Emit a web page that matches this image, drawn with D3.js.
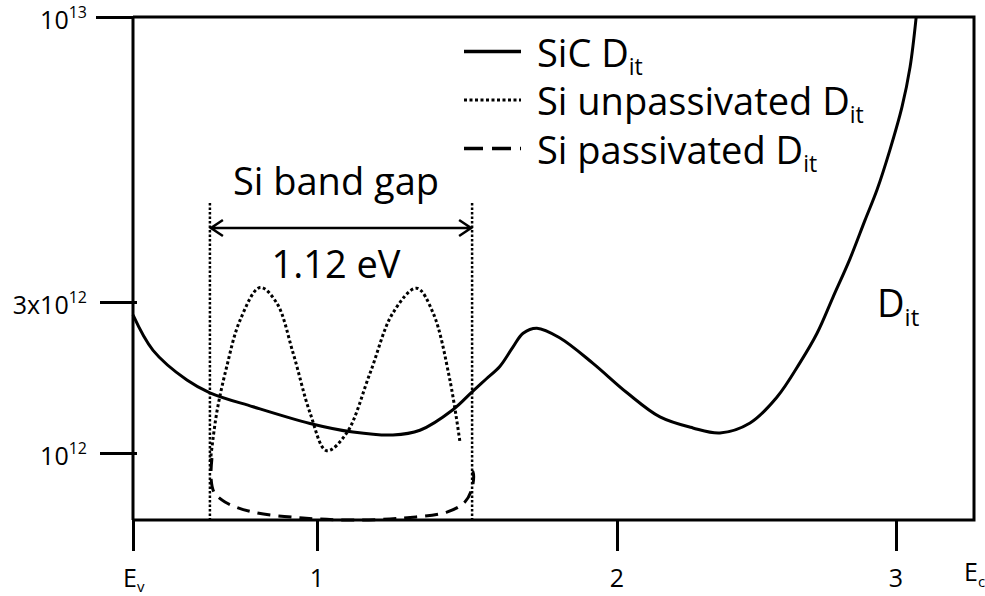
<!DOCTYPE html>
<html>
<head>
<meta charset="utf-8">
<script src="https://d3js.org/d3.v7.min.js"></script>
<style>
  body, html { margin:0; background:#fff; }
  text { font-family:"Open Sans", sans-serif; fill:#000; }
</style>
</head>
<body>
<svg id="chart"></svg>
<script>

  const width = 985, height = 596;

  // energy above Ev (eV) and Dit (cm^-2 eV^-1)
  const sicE   = [0, 0.109, 0.293, 0.418, 0.652, 0.962, 1.12, 1.253, 1.343, 1.453, 1.517, 1.563, 1.61, 1.653, 1.687, 1.733, 1.81, 1.92, 2.036, 2.154, 2.272, 2.369, 2.477, 2.573, 2.656, 2.717, 2.774, 2.835, 2.889, 2.932, 2.978, 3.02, 3.047, 3.067];
  const sicDit = [2.73e12, 2.11e12, 1.70e12, 1.55e12, 1.40e12, 1.24e12, 1.165e12, 1.14e12, 1.18e12, 1.37e12, 1.56e12, 1.71e12, 1.88e12, 2.16e12, 2.39e12, 2.48e12, 2.31e12, 1.92e12, 1.55e12, 1.30e12, 1.20e12, 1.157e12, 1.244e12, 1.50e12, 1.93e12, 2.39e12, 3.06e12, 3.60e12, 4.24e12, 4.82e12, 5.70e12, 6.84e12, 8.10e12, 9.96e12];

  const unpassE   = [0.42, 0.455, 0.509, 0.582, 0.69, 0.781, 0.87, 0.962, 1.032, 1.099, 1.177, 1.253, 1.332, 1.387, 1.443, 1.477];
  const unpassDit = [0.94e12, 1.34e12, 1.87e12, 2.63e12, 3.19e12, 2.98e12, 2.07e12, 1.34e12, 1.017e12, 1.157e12, 1.79e12, 2.77e12, 3.18e12, 2.77e12, 1.70e12, 1.075e12];

  const passE   = [0.429, 0.424, 0.44, 0.5, 0.652, 0.924, 1.12, 1.287, 1.433, 1.493, 1.517, 1.52, 1.507];
  const passDit = [0.965e12, 0.837e12, 0.757e12, 0.705e12, 0.656e12, 0.629e12, 0.62e12, 0.629e12, 0.656e12, 0.705e12, 0.779e12, 0.873e12, 0.898e12];

  const bandGapEdges = [0.418, 1.517];
  const xTicks = [0, 1, 2, 3];
  const xTickLabels = [["E","v"], ["1"], ["2"], ["3"]];
  const ecValue = 3.26;
  const yTicks = [1e12, 3e12, 1e13];
  const yTickLabels = [["10","12"], ["3x10","12"], ["10","13"]];
  const legendLabels = ["SiC D", "Si unpassivated D", "Si passivated D"];

  // schematic axes: piecewise scales so ticks sit where the drawing puts them
  const x = d3.scaleLinear().domain([0, 1, 2, 3, ecValue]).range([133, 317, 617, 896, 974]);
  const y = d3.scaleLog().domain([6.2e11, 1e12, 3e12, 1e13]).range([520, 453, 302, 17]);

  const svg = d3.select("#chart").attr("width", width).attr("height", height);

  // box
  svg.append("path")
    .attr("d", `M${x(0)},${y(1e13)}H${x(ecValue)}V${y(6.2e11)}H${x(0)}`)
    .attr("fill", "none").attr("stroke", "#000").attr("stroke-width", 3);

  // left axis
  const yAxis = svg.append("g")
    .attr("transform", `translate(${x(0)},0)`)
    .call(d3.axisLeft(y).tickValues(yTicks).tickSize(35).tickFormat(""));
  yAxis.select(".domain").remove();
  yAxis.selectAll(".tick line").attr("stroke-width", 3).attr("x2", d => d === 1e13 ? -37 : -33).attr("x1", d => d === 1e13 ? 0 : 4);
  svg.append("line")
    .attr("x1", x(0)).attr("x2", x(0)).attr("y1", y(1e13)).attr("y2", y(6.2e11))
    .attr("stroke", "#000").attr("stroke-width", 3);

  yTicks.forEach((v, i) => {
    const t = svg.append("text")
      .attr("x", 87).attr("y", y(v) + 12)
      .attr("text-anchor", "end").style("font-size", "25px");
    t.append("tspan").text(yTickLabels[i][0]);
    t.append("tspan").attr("dy", -11).style("font-size", "16px").text(yTickLabels[i][1]);
  });

  // bottom axis
  const xAxis = svg.append("g")
    .attr("transform", `translate(0,${y(6.2e11)})`)
    .call(d3.axisBottom(x).tickValues(xTicks).tickSize(31).tickFormat(""));
  xAxis.select(".domain").remove();
  xAxis.selectAll(".tick line").attr("stroke-width", 3);

  xTicks.forEach((v, i) => {
    const lab = xTickLabels[i];
    const t = svg.append("text")
      .attr("x", x(v) + (lab.length > 1 ? -10 : 0)).attr("y", 587)
      .attr("text-anchor", lab.length > 1 ? "start" : "middle")
      .style("font-size", "25px");
    t.append("tspan").text(lab[0]);
    if (lab.length > 1) t.append("tspan").attr("dy", 5).style("font-size", "15px").text(lab[1]);
  });
  const ec = svg.append("text").attr("x", x(ecValue) - 10).attr("y", 581).style("font-size", "25px");
  ec.append("tspan").text("E");
  ec.append("tspan").attr("dy", 6).style("font-size", "15px").text("c");

  // Si band gap markers
  bandGapEdges.forEach(e => {
    svg.append("line")
      .attr("x1", x(e)).attr("x2", x(e)).attr("y1", 203).attr("y2", y(6.2e11))
      .attr("stroke", "#000").attr("stroke-width", 2.5).attr("stroke-dasharray", "2.5,2");
  });
  const xa = x(bandGapEdges[0]), xb = x(bandGapEdges[1]), ay = 228;
  svg.append("path")
    .attr("d", `M${xa},${ay}H${xb}M${xa+13},${ay-8}L${xa+1},${ay}L${xa+13},${ay+8}M${xb-13},${ay-8}L${xb-1},${ay}L${xb-13},${ay+8}`)
    .attr("fill", "none").attr("stroke", "#000").attr("stroke-width", 2.5);
  const mid = (xa + xb) / 2 - 5;
  svg.append("text").attr("x", mid).attr("y", 195).attr("text-anchor", "middle")
    .style("font-size", "38px").text("Si band gap");
  svg.append("text").attr("x", mid).attr("y", 278).attr("text-anchor", "middle")
    .style("font-size", "38px").text("1.12 eV");

  // curves
  const line = d3.line()
    .x(d => x(d[0])).y(d => y(d[1]))
    .curve(d3.curveCatmullRom.alpha(0.5));

  const series = [
    {E: sicE, D: sicDit, dash: null, w: 3},
    {E: unpassE, D: unpassDit, dash: "3,2.5", w: 3},
    {E: passE, D: passDit, dash: "13,8", w: 3}
  ];
  series.forEach(s => {
    svg.append("path")
      .datum(d3.zip(s.E, s.D))
      .attr("d", line)
      .attr("fill", "none").attr("stroke", "#000")
      .attr("stroke-width", s.w)
      .attr("stroke-dasharray", s.dash);
  });

  // legend
  const legendDash = [null, "3,2.5", "19,9"];
  legendLabels.forEach((lab, i) => {
    const ly = 51.5 + i * 48.5;
    svg.append("line")
      .attr("x1", 464).attr("x2", 521).attr("y1", ly).attr("y2", ly)
      .attr("stroke", "#000").attr("stroke-width", i === 1 ? 3 : 3.5)
      .attr("stroke-dasharray", legendDash[i]);
    const t = svg.append("text").attr("x", 537).attr("y", ly + 15).style("font-size", "38px");
    t.append("tspan").text(lab);
    t.append("tspan").attr("dy", 8).style("font-size", "23px").text("it");
  });

  // Dit label
  const dl = svg.append("text").attr("x", 877).attr("y", 317).style("font-size", "38px");
  dl.append("tspan").text("D");
  dl.append("tspan").attr("dy", 9).style("font-size", "24px").text("it");

</script>
</body>
</html>
